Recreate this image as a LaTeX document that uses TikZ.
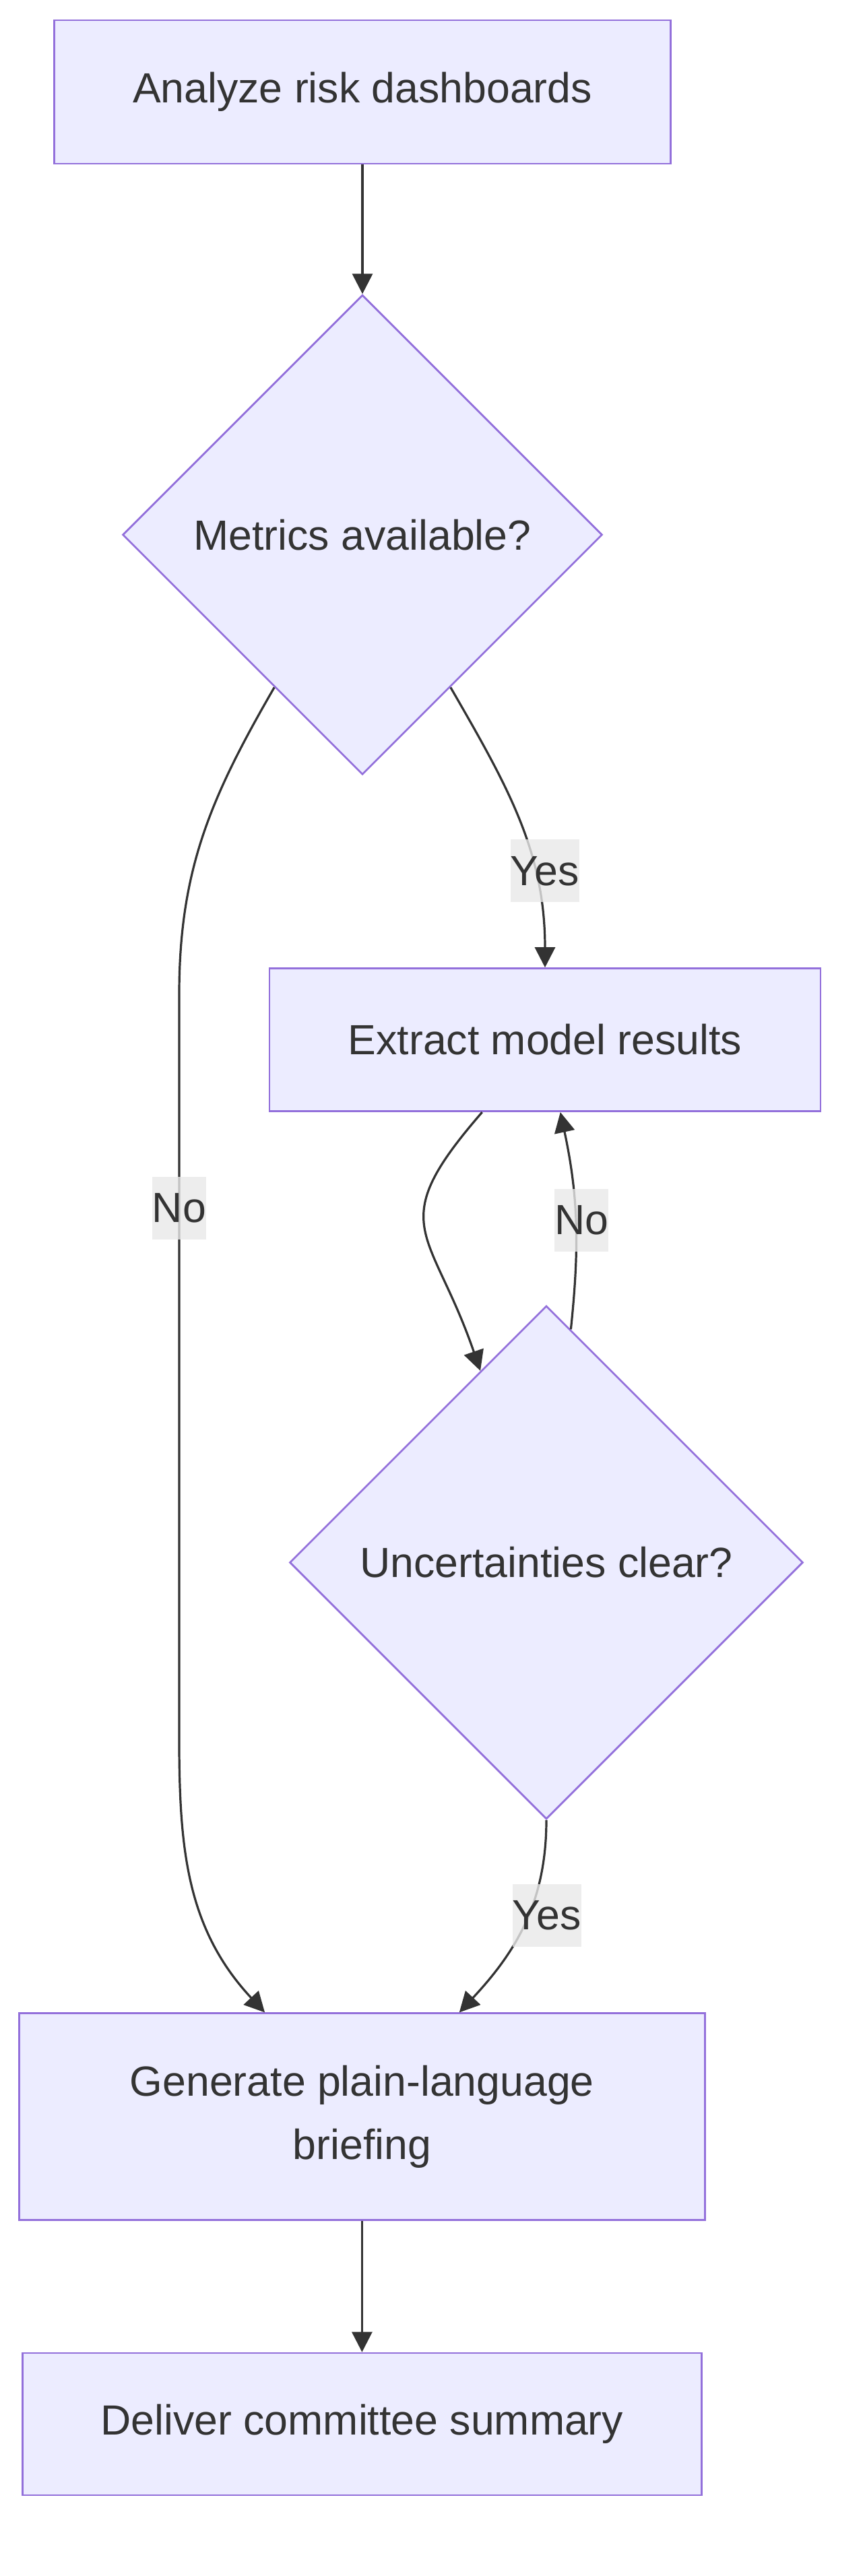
\documentclass[tikz,border=0pt]{standalone}
\usepackage{fontspec}
\setmainfont{Liberation Sans}
\usepackage{xcolor}
\usepackage{tikz}
\usetikzlibrary{arrows.meta, positioning, shapes.geometric}

\definecolor{nodefill}{HTML}{ECECFF}
\definecolor{nodeline}{HTML}{9370DB}
\definecolor{inkgray}{HTML}{333333}
\definecolor{lblgray}{HTML}{E8E8E8}

\begin{document}
\begin{tikzpicture}[
        font=\fontsize{31.3}{47}\selectfont,
        box/.style={rectangle, draw=nodeline, line width=1.4pt, fill=nodefill, text=inkgray, align=center, inner sep=0pt},
        decide/.style={diamond, aspect=1, draw=nodeline, line width=1.4pt, fill=nodefill, text=inkgray, align=center, inner sep=0pt},
        arrow/.style={-{Triangle[length=15pt, width=15pt]}, line width=1.6pt, draw=inkgray},
        lbl/.style={fill=lblgray, fill opacity=0.8, text opacity=1, text=inkgray, inner sep=0pt, minimum height=46.5pt}
    ]
        \useasboundingbox (0,0) rectangle (642pt,-1912pt);

        \node[box, minimum width=457.5pt, minimum height=106.5pt] (analyze) at (269pt,-68.25pt) {Analyze risk dashboards};
        \node[decide, minimum width=356pt, minimum height=356pt, below=96pt of analyze] (metrics) {Metrics available?};
        \node[box, minimum width=409pt, minimum height=106pt, below=142.5pt of metrics, xshift=135.5pt] (extract) {Extract model results};
        \node[decide, minimum width=381pt, minimum height=381pt, below=143pt of extract, xshift=1pt] (unc) {Uncertainties clear?};
        \node[box, minimum width=509pt, minimum height=153.5pt, below=142.8pt of unc, xshift=-136.8pt] (brief) {Generate plain-language\\briefing};
        \node[box, minimum width=504pt, minimum height=105.5pt, below=97.2pt of brief] (deliver) {Deliver committee summary};

        % bends of the long "No" edge
        \coordinate (noTop) at (133pt,-738pt);
        \coordinate (noBot) at (133pt,-1250pt);

        \draw[arrow] (analyze) -- (metrics);
        \draw[arrow] (metrics) to[out=-60, in=90] node[lbl, pos=0.7, xshift=7pt, yshift=3pt] {Yes} (extract);
        \draw[arrow] (metrics) to[out=-120, in=90] (noTop) -- node[lbl, pos=0.31] {No} (noBot) to[out=-90, in=133] (brief);
        \draw[arrow] (extract) to[out=-131, in=109, looseness=1.5] (unc);
        \draw[arrow] (unc) to[out=84, in=-78] node[lbl, xshift=4.5pt] {No} (extract);
        \draw[arrow] (unc) to[out=-90, in=47] node[lbl, pos=0.45, xshift=14pt] {Yes} (brief);
        \draw[arrow] (brief) -- (deliver);
    \end{tikzpicture}
\end{document}
